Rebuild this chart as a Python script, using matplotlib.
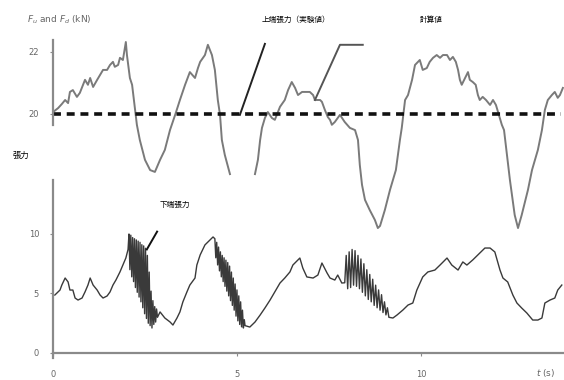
import numpy as np
import matplotlib
matplotlib.use("Agg")
import matplotlib.pyplot as plt

plt.rcParams['font.family'] = ['DejaVu Sans']
cjk = ['Noto Sans CJK JP', 'DejaVu Sans']

# upper panel: tension (kN) vs time (s); NaN = gap in the trace
t_top = [0.00, 0.14, 0.24, 0.33, 0.41, 0.46, 0.54, 0.65, 0.73, 0.87, 0.95, 1.01,
         1.09, 1.20, 1.28, 1.36, 1.47, 1.55, 1.63, 1.68, 1.77, 1.82, 1.90, 1.98,
         2.01, 2.09, 2.15, 2.23, 2.28, 2.36, 2.50, 2.64, 2.77, 2.91, 3.04, 3.18,
         3.32, 3.45, 3.59, 3.72, 3.86, 3.94, 4.00, 4.13, 4.21, 4.32, 4.40, 4.48,
         4.54, 4.59, 4.67, 4.81, 5.15, 5.49, 5.57, 5.63, 5.68, 5.76, 5.84, 5.95,
         6.03, 6.17, 6.30, 6.39, 6.49, 6.58, 6.66, 6.77, 6.98, 7.07, 7.12, 7.26,
         7.31, 7.39, 7.47, 7.53, 7.58, 7.66, 7.80, 7.93, 8.07, 8.21, 8.29, 8.34,
         8.40, 8.48, 8.61, 8.75, 8.83, 8.89, 9.02, 9.16, 9.32, 9.43, 9.48, 9.57,
         9.65, 9.76, 9.84, 9.92, 9.97, 10.05, 10.16, 10.24, 10.33, 10.43, 10.52,
         10.60, 10.71, 10.79, 10.87, 10.95, 11.01, 11.06, 11.11, 11.20, 11.28,
         11.33, 11.41, 11.49, 11.55, 11.60, 11.68, 11.77, 11.88, 11.96, 12.04,
         12.12, 12.20, 12.26, 12.34, 12.42, 12.55, 12.64, 12.74, 12.91, 13.02,
         13.18, 13.29, 13.37, 13.45, 13.56, 13.64, 13.72, 13.78, 13.86]
f_top = [20.06, 20.19, 20.32, 20.45, 20.35, 20.71, 20.77, 20.55, 20.68, 21.10,
         20.94, 21.16, 20.87, 21.10, 21.26, 21.42, 21.42, 21.58, 21.68, 21.52,
         21.58, 21.81, 21.74, 22.32, 21.90, 21.16, 20.94, 20.13, 19.65, 19.16,
         18.52, 18.19, 18.13, 18.52, 18.84, 19.48, 19.97, 20.45, 20.94, 21.35,
         21.16, 21.48, 21.68, 21.90, 22.23, 21.90, 21.42, 20.45, 19.97, 19.16,
         18.68, 18.06, np.nan, 18.06, 18.52, 19.16, 19.55, 19.87, 20.06, 19.87,
         19.81, 20.23, 20.45, 20.77, 21.03, 20.84, 20.61, 20.71, 20.71, 20.61,
         20.45, 20.45, 20.39, 20.13, 19.90, 19.81, 19.65, 19.74, 19.97, 19.74,
         19.55, 19.48, 19.16, 18.35, 17.71, 17.23, 16.90, 16.58, 16.32, 16.39,
         16.90, 17.55, 18.19, 19.16, 19.55, 20.45, 20.61, 21.10, 21.58, 21.68,
         21.74, 21.42, 21.48, 21.68, 21.81, 21.90, 21.81, 21.90, 21.90, 21.74,
         21.84, 21.68, 21.42, 21.10, 20.94, 21.16, 21.35, 21.10, 21.03, 20.94,
         20.61, 20.45, 20.55, 20.45, 20.29, 20.45, 20.29, 19.97, 19.65, 19.48,
         18.68, 17.87, 16.74, 16.32, 16.74, 17.55, 18.19, 18.84, 19.48, 20.13,
         20.45, 20.61, 20.71, 20.52, 20.61, 20.84]
ref_level = 20.0
ref_span = [0.0, 13.8]

# lower panel, read in pieces (calm stretches and the three oscillating bursts)
t_bot_a = [0.05, 0.19, 0.24, 0.33, 0.41, 0.46, 0.54, 0.60, 0.68, 0.79, 0.87,
           0.95, 1.01, 1.09, 1.20, 1.28, 1.36, 1.47, 1.55, 1.63, 1.71, 1.82,
           1.90, 1.98]
f_bot_a = [4.87, 5.29, 5.71, 6.30, 5.97, 5.29, 5.29, 4.62, 4.45, 4.62, 5.13,
           5.71, 6.30, 5.71, 5.29, 4.87, 4.62, 4.79, 5.13, 5.71, 6.13, 6.81,
           7.39, 7.98]
t_burst1 = [2.04, 2.065, 2.09, 2.115, 2.14, 2.165, 2.19, 2.215, 2.24, 2.265,
            2.29, 2.315, 2.34, 2.365, 2.39, 2.415, 2.44, 2.465, 2.49, 2.515,
            2.54, 2.565, 2.59, 2.615, 2.64, 2.665, 2.69, 2.715, 2.74, 2.765,
            2.79, 2.815, 2.84]
f_burst1 = [8.7, 10.0, 7.0, 9.9, 6.4, 9.7, 6.0, 9.6, 5.5, 9.5, 5.1, 9.4, 4.7,
            9.3, 4.3, 9.1, 3.8, 9.0, 3.3, 8.8, 2.9, 8.2, 2.5, 6.8, 2.3, 5.2,
            2.1, 4.4, 2.4, 3.9, 2.6, 3.7, 3.0]
t_bot_b = [2.91, 3.04, 3.18, 3.26, 3.37, 3.45, 3.53, 3.64, 3.72, 3.86, 3.91,
           4.00, 4.13, 4.35]
f_bot_b = [3.45, 2.94, 2.61, 2.35, 2.94, 3.45, 4.29, 5.13, 5.71, 6.30, 7.39,
           8.24, 9.08, 9.75]
t_burst2 = [4.40, 4.425, 4.45, 4.475, 4.50, 4.525, 4.55, 4.575, 4.60, 4.625,
            4.65, 4.675, 4.70, 4.725, 4.75, 4.775, 4.80, 4.825, 4.85, 4.875,
            4.90, 4.925, 4.95, 4.975, 5.00, 5.025, 5.05, 5.075, 5.10, 5.125,
            5.15, 5.175, 5.20, 5.22]
f_burst2 = [9.6, 8.0, 9.3, 7.4, 8.9, 6.9, 8.5, 6.4, 8.2, 6.0, 8.0, 5.6, 7.8,
            5.2, 7.6, 4.8, 7.3, 4.4, 6.8, 4.0, 6.3, 3.6, 5.8, 3.1, 5.3, 2.7,
            4.8, 2.4, 4.3, 2.2, 3.6, 2.1, 2.8, 2.3]
t_bot_c = [5.35, 5.49, 5.63, 5.76, 5.90, 6.03, 6.17, 6.30, 6.44, 6.52, 6.71,
           6.79, 6.90, 7.07, 7.20, 7.31, 7.45, 7.53, 7.66, 7.74, 7.85]
f_bot_c = [2.18, 2.6, 3.19, 3.78, 4.45, 5.13, 5.88, 6.30, 6.81, 7.39, 7.98,
           7.14, 6.39, 6.30, 6.55, 7.56, 6.72, 6.30, 6.13, 6.55, 5.88]
t_burst3 = [7.93, 7.97, 8.01, 8.05, 8.09, 8.13, 8.17, 8.21, 8.25, 8.29, 8.33,
            8.37, 8.41, 8.45, 8.49, 8.53, 8.57, 8.61, 8.65, 8.69, 8.73, 8.77,
            8.81, 8.85, 8.89, 8.93, 8.97, 9.01, 9.05, 9.09, 9.13]
f_burst3 = [5.9, 8.2, 5.4, 8.5, 5.5, 8.7, 5.7, 8.6, 5.6, 8.2, 5.4, 7.9, 5.1,
            7.5, 4.8, 7.0, 4.5, 6.6, 4.3, 6.2, 4.0, 5.7, 3.8, 5.3, 3.6, 4.9,
            3.4, 4.3, 3.2, 3.8, 3.0]
t_bot_d = [9.24, 9.35, 9.51, 9.65, 9.78, 9.89, 10.05, 10.19, 10.38, 10.52,
           10.71, 10.84, 11.01, 11.14, 11.25, 11.41, 11.60, 11.74, 11.88,
           12.01, 12.15, 12.23, 12.36, 12.50, 12.61, 12.74, 12.88, 13.04,
           13.18, 13.29, 13.37, 13.51, 13.64, 13.72, 13.83]
f_bot_d = [2.94, 3.19, 3.61, 4.03, 4.20, 5.29, 6.39, 6.81, 6.97, 7.39, 7.98,
           7.39, 6.97, 7.65, 7.39, 7.82, 8.40, 8.82, 8.82, 8.49, 6.97, 6.30,
           5.97, 4.87, 4.20, 3.78, 3.36, 2.77, 2.77, 2.94, 4.20, 4.45, 4.62,
           5.29, 5.71]
t_bot = t_bot_a + t_burst1 + t_bot_b + t_burst2 + t_bot_c + t_burst3 + t_bot_d
f_bot = f_bot_a + f_burst1 + f_bot_b + f_burst2 + f_bot_c + f_burst3 + f_bot_d

top_ticks = [20, 22]
bot_ticks = [0, 5, 10]
x_ticks = [0, 5, 10]

# label leader lines (t, value)
lead_a = ([5.08, 5.76], [19.97, 22.26])
lead_b = ([7.12, 7.80, 8.42], [20.45, 22.23, 22.23])
lead_c = ([2.55, 2.83], [8.7, 10.2])

W, H = 564, 380
fig = plt.figure(figsize=(W / 100, H / 100), dpi=100)
rect = [53 / W, 1 - 353 / H, (W - 53) / W, (353 - 20) / H]
ax_b = fig.add_axes(rect)
ax_t = fig.add_axes(rect, sharex=ax_b)
ax_t.patch.set_visible(False)

sc = '#8a8a8a'
tc = '#666666'

# upper
ax_t.plot(t_top, f_top, color='#7a7a7a', lw=1.4)
ax_t.plot(ref_span, [ref_level, ref_level], color='#111111', lw=2.6,
          dashes=(2.2, 1.6))
ax_t.plot(*lead_a, color='#222222', lw=1.4)
ax_t.plot(*lead_b, color='#555555', lw=1.4)
ax_t.set_ylim(12.29, 23.03)
for s in ['top', 'right', 'bottom']:
    ax_t.spines[s].set_visible(False)
ax_t.spines['left'].set_color(sc)
ax_t.spines['left'].set_linewidth(1.6)
ax_t.spines['left'].set_bounds(19.65, 22.4)
ax_t.set_yticks(top_ticks)
ax_t.tick_params(axis='y', length=2, color=sc, labelsize=6, labelcolor=tc, pad=8)
ax_t.tick_params(axis='x', bottom=False, labelbottom=False)

# lower
ax_b.plot(t_bot, f_bot, color='#3a3a3a', lw=1.0)
ax_b.plot(*lead_c, color='#111111', lw=1.4)
ax_b.set_xlim(0, 13.89)
ax_b.set_ylim(0, 27.98)
for s in ['top', 'right']:
    ax_b.spines[s].set_visible(False)
for s in ['left', 'bottom']:
    ax_b.spines[s].set_color(sc)
    ax_b.spines[s].set_linewidth(1.6)
ax_b.spines['left'].set_bounds(-0.4, 14.5)
ax_b.set_yticks(bot_ticks)
ax_b.set_xticks(x_ticks)
ax_b.tick_params(axis='both', length=2, color=sc, labelsize=6, labelcolor=tc)
ax_b.tick_params(axis='y', pad=8)
ax_b.tick_params(axis='x', pad=10)

# texts
fig.text(27 / W, 1 - 20 / H, '$F_u$ and $F_d$ (kN)', fontsize=6.5, color=tc,
         va='center', ha='left')
fig.text(262 / W, 1 - 20 / H, '上端張力（実験値）', family=cjk, fontsize=5.5,
         color='black', va='center', ha='left')
fig.text(420 / W, 1 - 20 / H, '計算値', family=cjk, fontsize=5.5,
         color='black', va='center', ha='left')
fig.text(160 / W, 1 - 205 / H, '下端張力', family=cjk, fontsize=5.5,
         color='black', va='center', ha='left')
fig.text(13 / W, 1 - 155 / H, '張力', family=cjk, fontsize=6,
         color='black', va='center', ha='left')
fig.text(536 / W, 1 - 373 / H, '$t$ (s)', fontsize=6.5, color=tc,
         va='center', ha='left')

fig.savefig('out.png', dpi=100, facecolor='white')
